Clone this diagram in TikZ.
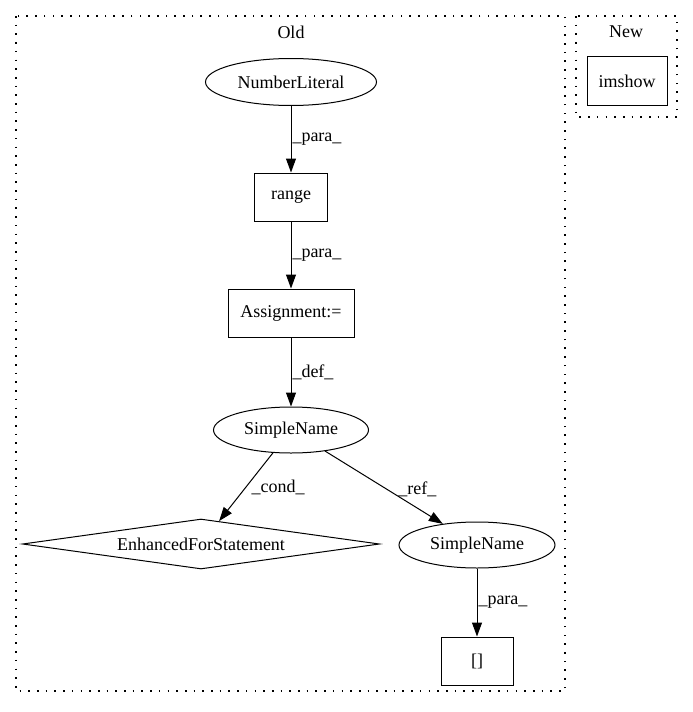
\documentclass[tikz,border=0pt]{standalone}
\usepackage{fontspec}
\setmainfont{Liberation Serif}
\usetikzlibrary{shapes,arrows.meta}

\begin{document}
\begin{tikzpicture}[x=1pt,y=-1pt,line width=1pt,
  font=\fontsize{18}{21}\selectfont,
  >={Triangle[length=14pt,width=10pt]},
  box/.style={draw,rectangle,inner sep=0pt,minimum height=48pt},
  oval/.style={draw,ellipse,inner sep=0pt,minimum width=155pt,minimum height=46pt},
  lbl/.style={midway,anchor=west,inner sep=1pt},
  cluster/.style={draw,line width=1.4pt,dash pattern=on 1.6pt off 7.1pt}]
\useasboundingbox (0,0) rectangle (693,712);
\draw[cluster] (16,16) rectangle (565,691);
\draw[cluster] (576,16) rectangle (677,117);
\node (old) at (291,32) {Old};
\node (new) at (626,32) {New};
\node[oval,minimum width=171pt,minimum height=47pt] (num) at (291,82) {NumberLiteral};
\node[box,minimum width=73pt] (range) at (291,197) {range};
\node[box,minimum width=126pt] (assign) at (291,313) {Assignment:=};
\node[oval] (name) at (291,430) {SimpleName};
\node[draw,diamond,aspect=7,inner sep=0pt,minimum width=357pt,minimum height=50pt] (efor) at (201,544) {EnhancedForStatement};
\node[oval,minimum width=156pt] (name2) at (477,545) {SimpleName};
\node[box,minimum width=72pt] (arr) at (477,661) {[]};
\node[box,minimum width=80pt,minimum height=49pt] (imshow) at (627,81) {imshow};
\draw[->] (num) -- (range) node[lbl] {\_para\_};
\draw[->] (range) -- (assign) node[lbl] {\_para\_};
\draw[->] (assign) -- (name) node[lbl] {\_def\_};
\draw[->] (name) -- (efor) node[lbl,xshift=4pt] {\_cond\_};
\draw[->] (name) -- (name2) node[lbl,xshift=13pt,yshift=-2pt] {\_ref\_};
\draw[->] (name2) -- (arr) node[lbl] {\_para\_};
\end{tikzpicture}
\end{document}
